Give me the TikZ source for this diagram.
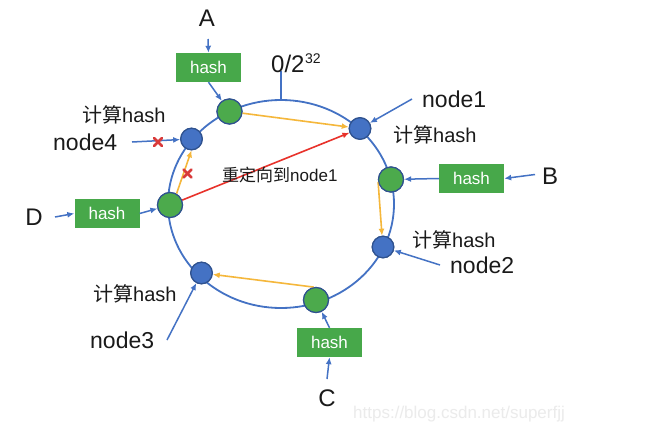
\documentclass[tikz,border=0pt]{standalone}
\usepackage{fontspec}
\setmainfont{Liberation Sans}
\newfontfamily\cjk{Noto Sans CJK SC}
\usetikzlibrary{arrows.meta,calc}
\definecolor{ringblue}{HTML}{4472C4}
\definecolor{nodeblue}{HTML}{4472C4}
\definecolor{edgeblue}{HTML}{2F528F}
\definecolor{circgreen}{HTML}{4CAA4C}
\definecolor{boxgreen}{HTML}{47A84A}
\definecolor{arryellow}{HTML}{F5B73B}
\definecolor{arrred}{HTML}{E8322B}
\definecolor{markred}{HTML}{D93A3A}
\definecolor{txt}{HTML}{1A1A1A}
\definecolor{wm}{HTML}{EBEBEB}
\begin{document}
\begin{tikzpicture}[x=1pt,y=-1pt,
  ring/.style={draw=ringblue,line width=1.8pt},
  bnode/.style={circle,inner sep=0pt,minimum size=21.5pt,fill=nodeblue,draw=edgeblue,line width=1.2pt},
  gnode/.style={circle,inner sep=0pt,minimum size=25pt,fill=circgreen,draw=edgeblue,line width=1.2pt},
  hbox/.style={rectangle,inner sep=0pt,minimum width=65pt,minimum height=29pt,fill=boxgreen,text=white,font=\fontsize{17}{17}\selectfont},
  biglbl/.style={inner sep=0pt,text=txt,font=\fontsize{24}{24}\selectfont},
  nlbl/.style={inner sep=0pt,anchor=base west,text=txt,font=\fontsize{23}{23}\selectfont},
  clbl/.style={inner sep=0pt,anchor=base west,text=txt,font=\fontsize{20}{20}\selectfont},
  barrow/.style={draw=ringblue,line width=1.5pt,-{Latex[length=7pt,width=6pt]}},
  yarrow/.style={draw=arryellow,line width=1.6pt,-{Latex[length=7pt,width=6pt]}},
  rarrow/.style={draw=arrred,line width=1.6pt,-{Latex[length=7pt,width=6pt]}},
  xmark/.style={draw=markred,line width=2.8pt,line cap=round}
]
\useasboundingbox (0,0) rectangle (667,423);
\fill[white] (0,0) rectangle (667,423);

% ring and tick
\draw[ring] (281,204) ellipse [x radius=113pt, y radius=104pt];
\coordinate (top) at (281,100);
\coordinate (tickend) at (281,71);
\draw[ring] (top) -- (tickend);
\node[inner sep=0pt,anchor=base west,text=txt,font=\fontsize{24}{24}\selectfont] (zero) at (271,72) {0/2};
\node[inner sep=0pt,anchor=base west,text=txt,font=\fontsize{14}{14}\selectfont] (sup) at (305,63) {32};

% circles
\node[gnode] (gA) at (229.5,111.5) {};
\node[gnode] (gB) at (391,179.5) {};
\node[gnode] (gC) at (316,300) {};
\node[gnode] (gD) at (170,205) {};
\node[bnode] (n1) at (360,128.5) {};
\node[bnode] (n2) at (383,247) {};
\node[bnode] (n3) at (201.5,273) {};
\node[bnode] (n4) at (191.5,139) {};

% yellow and red arrows
\draw[yarrow] (gA) -- (n1);
\draw[yarrow] (gB.190) -- (n2.95);
\draw[yarrow] (gC.100) -- (n3);
\draw[yarrow] (gD.60) -- (n4.south);
\draw[rarrow] (gD) -- (n1);

% redraw circles on top
\node[gnode] at (gA) {};
\node[gnode] at (gB) {};
\node[gnode] at (gC) {};
\node[gnode] at (gD) {};
\node[bnode] at (n1) {};
\node[bnode] at (n2) {};
\node[bnode] at (n3) {};
\node[bnode] at (n4) {};

% hash boxes
\node[hbox] (hA) at (208.5,67.5) {hash};
\node[hbox] (hB) at (471.5,178.5) {hash};
\node[hbox] (hC) at (329.5,342.5) {hash};
\node[hbox] (hD) at (107,213.5) {hash};

% letters
\node[biglbl] (A) at (207,18.5) {A};
\node[biglbl] (B) at (550,176) {B};
\node[biglbl] (C) at (327,398.5) {C};
\node[biglbl] (D) at (34,217.5) {D};

% labels
\node[nlbl] (l1) at (422,107) {node1};
\node[clbl] (c1) at (393,142) {{\cjk 计算}hash};
\node[nlbl] (l2) at (450,273) {node2};
\node[clbl] (c2) at (412,247) {{\cjk 计算}hash};
\node[nlbl] (l3) at (90,348) {node3};
\node[clbl] (c3) at (93,301) {{\cjk 计算}hash};
\node[nlbl] (l4) at (53,150) {node4};
\node[clbl] (c4) at (82,122) {{\cjk 计算}hash};
\node[inner sep=0pt,anchor=base west,text=txt,font=\fontsize{17}{17}\selectfont] (redir) at (222,181) {{\cjk 重定向到}node1};

% input arrows
\coordinate (aS) at (208,39);
\draw[barrow] (aS) -- (hA.north);
\draw[barrow] (hA.south) -- (gA);
\coordinate (bS) at (535,174.5);
\draw[barrow] (bS) -- (hB.east);
\draw[barrow] (hB.west) -- (gB);
\coordinate (cS) at (327,379);
\draw[barrow] (cS) -- (hC.south);
\draw[barrow] (hC.north) -- (gC);
\coordinate (dS) at (55,217);
\draw[barrow] (dS) -- (hD.west);
\draw[barrow] (hD.east) -- (gD);

% node pointers
\coordinate (p1) at (412,99);
\draw[barrow] (p1) -- (n1);
\coordinate (p2) at (440,265);
\draw[barrow] (p2) -- (n2);
\coordinate (p3) at (167,340);
\draw[barrow] (p3) -- (n3);
\coordinate (p4) at (132,142);
\draw[barrow] (p4) -- (n4);

% red crosses
\coordinate (x1) at (158,142);
\coordinate (x2) at (187.5,173.5);
\draw[xmark] ($(x1)+(-4,-4)$) -- ($(x1)+(4,4)$);
\draw[xmark] ($(x1)+(-4,4)$) -- ($(x1)+(4,-4)$);
\draw[xmark] ($(x2)+(-4,-4)$) -- ($(x2)+(4,4)$);
\draw[xmark] ($(x2)+(-4,4)$) -- ($(x2)+(4,-4)$);

% watermark
\node[inner sep=0pt,anchor=base west,text=wm,font=\fontsize{17}{17}\selectfont] (wmark) at (353,418) {https://blog.csdn.net/superfjj};
\end{tikzpicture}
\end{document}
